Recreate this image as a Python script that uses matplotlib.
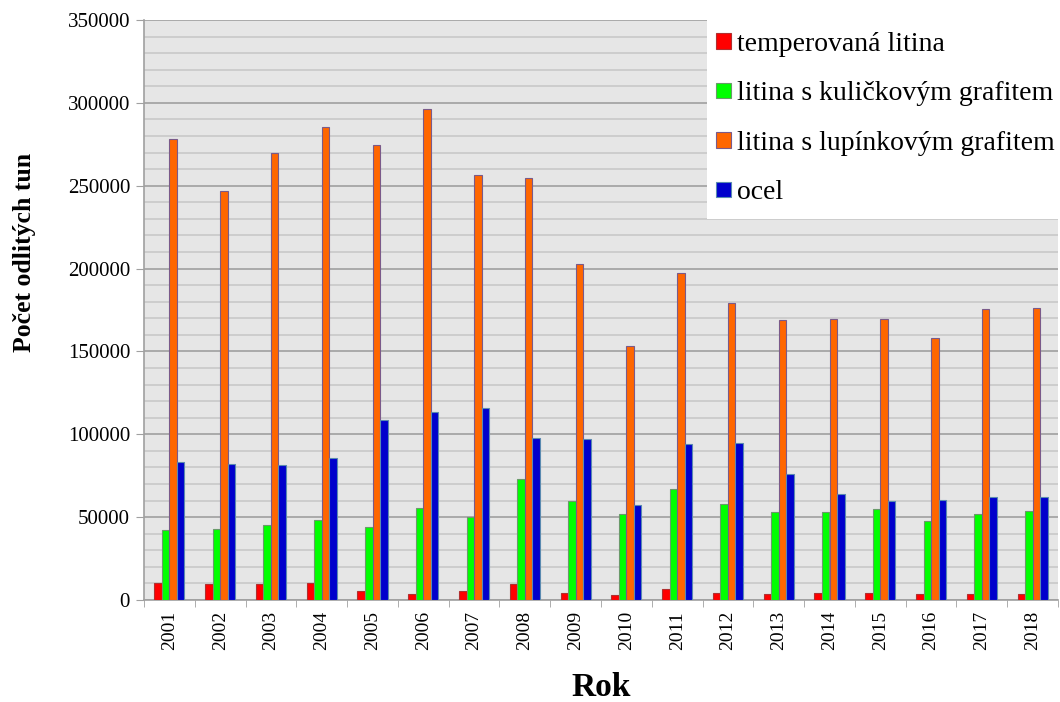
import numpy as np
import matplotlib
matplotlib.use("Agg")
import matplotlib.pyplot as plt
from matplotlib.ticker import MultipleLocator
from matplotlib.patches import Rectangle

plt.rcParams['font.family'] = ['Liberation Serif', 'DejaVu Serif']

years = [str(y) for y in range(2001, 2019)]
temperovana = [10400, 9850, 9450, 10400, 5600, 3600, 5600, 9450, 4000,
               3200, 6640, 4000, 3600, 4000, 4000, 3600, 3600, 3600]
kulickovy = [42200, 42800, 45000, 48100, 44000, 55300, 49900, 73000, 59700,
             52100, 67000, 57900, 52900, 52900, 54900, 47500, 51700, 53500]
lupinkovy = [278300, 247000, 269900, 285200, 274400, 296100, 256300, 254500, 202700,
             153300, 197500, 179000, 169000, 169600, 169600, 157900, 175600, 176200]
ocel = [83100, 81900, 81300, 85900, 108600, 113600, 116100, 97500, 97100,
        57500, 93900, 94900, 75800, 64100, 59500, 60500, 62000, 62000]

series = [
    ('temperovaná litina', temperovana, '#FF0000', '#B03030'),
    ('litina s kuličkovým grafitem', kulickovy, '#00FF00', '#6A9A6A'),
    ('litina s lupínkovým grafitem', lupinkovy, '#FF6600', '#7A5A8A'),
    ('ocel', ocel, '#0000CC', '#5A8AB0'),
]

W, H = 1060, 702
fig = plt.figure(figsize=(W / 100, H / 100), dpi=100)
ax = fig.add_axes([144 / W, 1 - 600 / H, (1058 - 144) / W, (600 - 20) / H])

x = np.arange(len(years))
w = 0.148
handles = []
for i, (name, vals, col, edge) in enumerate(series):
    b = ax.bar(x + (i - 1.5) * w, vals, width=w, color=col, edgecolor=edge,
               linewidth=0.8, label=name, zorder=3)
    handles.append(b)

ax.set_facecolor('#E6E6E6')
ax.set_xlim(-0.5, len(years) - 0.5)
ax.set_ylim(0, 350000)
ax.yaxis.set_major_locator(MultipleLocator(50000))
ax.yaxis.set_minor_locator(MultipleLocator(10000))
ax.grid(True, which='minor', axis='y', color='#C8C8C8', linewidth=1.2, zorder=0)
ax.grid(True, which='major', axis='y', color='#A0A0A0', linewidth=1.2, zorder=1)

ax.set_xticks(x)
ax.set_xticklabels(years, rotation=90, fontsize=14)
ax.set_xticks(np.arange(-0.5, len(years)), minor=True)
ax.tick_params(axis='x', which='major', length=0, pad=8)
ax.tick_params(axis='x', which='minor', length=5, color='#A0A0A0', direction='out')
ax.tick_params(axis='y', which='major', length=6, color='#A0A0A0', labelsize=15, pad=4)
ax.tick_params(axis='y', which='minor', length=0)

for s in ['top', 'right']:
    ax.spines[s].set_visible(False)
for s in ['left', 'bottom']:
    ax.spines[s].set_color('#A0A0A0')
    ax.spines[s].set_linewidth(1.2)

fig.text(601 / W, 1 - 688 / H, 'Rok', fontsize=24, fontweight='bold',
         ha='center', va='center')
fig.text(25 / W, 1 - 252 / H, 'Počet odlitých tun', fontsize=18.5,
         fontweight='bold', rotation=90, ha='center', va='center')

# white legend area over the plot
fig.patches.append(Rectangle((707 / W, 1 - 219 / H), (W - 707) / W, 219 / H,
                             transform=fig.transFigure, facecolor='white',
                             edgecolor='none', zorder=5))
leg = fig.legend(handles=handles, loc='upper left',
                 bbox_to_anchor=(716 / W, 1 - 32 / H), fontsize=20,
                 frameon=False, handlelength=0.55, handleheight=0.48,
                 handletextpad=0.22, labelspacing=0.88, borderpad=0,
                 borderaxespad=0)
leg.set_zorder(10)

fig.savefig('out.png', dpi=100)
